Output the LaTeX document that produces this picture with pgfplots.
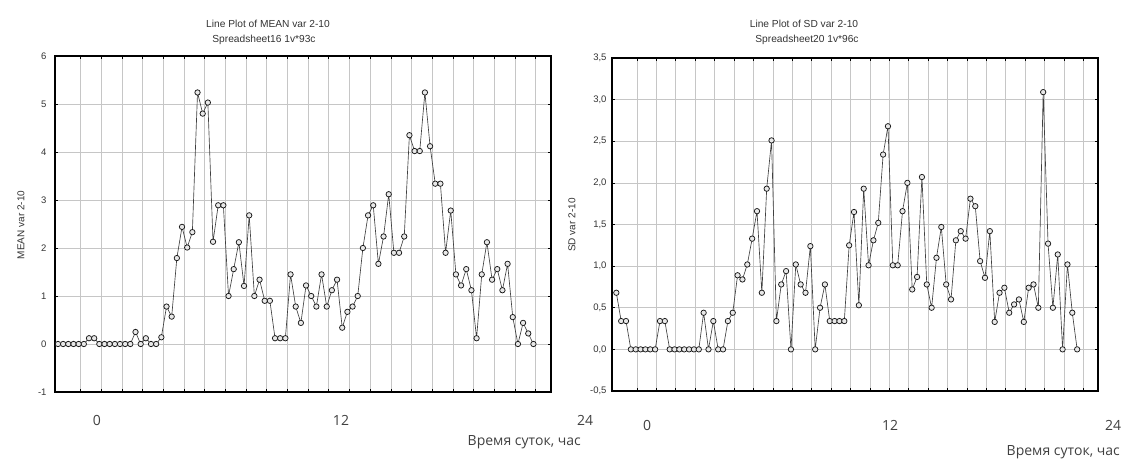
\documentclass[border=0pt]{standalone}
\usepackage{pgfplots}
\pgfplotsset{compat=1.18}
\usepackage{pgfplotstable}
\usepackage{fontspec}
\setmainfont{Liberation Sans}
\newfontfamily\capfont{Open Sans}

% case number, value
\pgfplotstableread{
n y
1 0
2 0
3 0
4 0
5 0
6 0
7 0.12
8 0.12
9 0
10 0
11 0
12 0
13 0
14 0
15 0
16 0.25
17 0
18 0.12
19 0
20 0
21 0.14
22 0.78
23 0.57
24 1.79
25 2.44
26 2.01
27 2.33
28 5.24
29 4.80
30 5.03
31 2.13
32 2.89
33 2.89
34 1.00
35 1.56
36 2.12
37 1.21
38 2.68
39 1.00
40 1.34
41 0.90
42 0.90
43 0.12
44 0.12
45 0.12
46 1.45
47 0.78
48 0.44
49 1.22
50 1.00
51 0.78
52 1.45
53 0.78
54 1.12
55 1.34
56 0.34
57 0.67
58 0.78
59 1.00
60 2.00
61 2.68
62 2.89
63 1.67
64 2.24
65 3.12
66 1.90
67 1.90
68 2.24
69 4.35
70 4.02
71 4.02
72 5.24
73 4.12
74 3.34
75 3.34
76 1.90
77 2.78
78 1.45
79 1.22
80 1.56
81 1.12
82 0.12
83 1.45
84 2.12
85 1.34
86 1.56
87 1.12
88 1.67
89 0.56
90 0
91 0.44
92 0.22
93 0
}\meandata

\pgfplotstableread{
n y
1 0.68
2 0.34
3 0.34
4 0
5 0
6 0
7 0
8 0
9 0
10 0.34
11 0.34
12 0
13 0
14 0
15 0
16 0
17 0
18 0
19 0.44
20 0
21 0.34
22 0
23 0
24 0.34
25 0.44
26 0.89
27 0.84
28 1.02
29 1.33
30 1.66
31 0.68
32 1.93
33 2.51
34 0.34
35 0.78
36 0.94
37 0
38 1.02
39 0.78
40 0.68
41 1.24
42 0
43 0.50
44 0.78
45 0.34
46 0.34
47 0.34
48 0.34
49 1.25
50 1.65
51 0.53
52 1.93
53 1.01
54 1.31
55 1.52
56 2.34
57 2.68
58 1.01
59 1.01
60 1.66
61 2.00
62 0.72
63 0.87
64 2.07
65 0.78
66 0.50
67 1.10
68 1.47
69 0.78
70 0.60
71 1.31
72 1.42
73 1.33
74 1.81
75 1.72
76 1.06
77 0.86
78 1.42
79 0.33
80 0.68
81 0.74
82 0.44
83 0.54
84 0.60
85 0.33
86 0.74
87 0.78
88 0.50
89 3.09
90 1.27
91 0.50
92 1.14
93 0
94 1.02
95 0.44
96 0
}\sddata

\pgfplotsset{
  statplot/.style={
    scale only axis,
    grid=major,
    major grid style={gray!45, line width=0.6pt},
    axis line style={black, line width=1.4pt},
    tick style={black, line width=0.6pt},
    major tick length=3pt,
    tick align=inside,
    xtick pos=both, ytick pos=both,
    xticklabels={},
    tick label style={font=\fontsize{9.5}{11}\selectfont, text=black!80},
    /pgf/number format/assume math mode=true,
  },
  statline/.style={
    black!75, line width=0.65pt,
    mark=*, mark size=2.7pt,
    mark options={draw=black!90, fill=gray!18, line width=0.75pt},
  },
}

\begin{document}
\begin{tikzpicture}
\useasboundingbox (0pt,0pt) rectangle (1127pt,462pt);

% left panel
\begin{axis}[statplot,
    at={(55pt,70pt)}, anchor=south west,
    width=496pt, height=336pt,
    xmin=0.42, xmax=96.4,
    ymin=-1, ymax=6,
    xtick={5.4,9.4,...,93.4},
    ytick={-1,0,...,6},
    yticklabel style={xshift=-5pt},
]
\addplot[statline] table[x=n, y=y] {\meandata};
\end{axis}

% right panel
\begin{axis}[statplot,
    at={(612pt,71pt)}, anchor=south west,
    width=486pt, height=333pt,
    xmin=0.11, xmax=100.3,
    ymin=-0.5, ymax=3.5,
    xtick={5.26,9.26,...,97.26},
    ytick={-0.5,0,...,3.5},
    yticklabel style={xshift=-2pt, /pgf/number format/.cd, fixed, fixed zerofill, precision=1, use comma},
]
\addplot[statline] table[x=n, y=y] {\sddata};
\end{axis}

% titles and axis names
\begin{scope}[every node/.style={text=black!80, inner sep=0pt}]
\node[font=\fontsize{10.2}{12}\selectfont] at (268pt,438pt) {Line Plot of MEAN var 2-10};
\node[font=\fontsize{10.2}{12}\selectfont] at (264pt,422pt) {Spreadsheet16 1v*93c};
\node[font=\fontsize{10.2}{12}\selectfont] at (804pt,438pt) {Line Plot of SD var 2-10};
\node[font=\fontsize{10.2}{12}\selectfont] at (807pt,422pt) {Spreadsheet20 1v*96c};
\node[font=\fontsize{10}{12}\selectfont, rotate=90] at (21pt,237pt) {MEAN var 2-10};
\node[font=\fontsize{10}{12}\selectfont, rotate=90] at (572pt,237pt) {SD var 2-10};
\end{scope}

% hour labels under the panels
\begin{scope}[every node/.style={text=black!75, inner sep=0pt, font=\capfont\fontsize{14}{16}\selectfont}]
\node at (97pt,42pt) {0};
\node at (341pt,42pt) {12};
\node at (585pt,42pt) {24};
\node[anchor=east] at (581pt,20pt) {Время суток, час};
\node at (647pt,37pt) {0};
\node at (890pt,37pt) {12};
\node at (1113pt,37pt) {24};
\node[anchor=east] at (1120pt,10pt) {Время суток, час};
\end{scope}
\end{tikzpicture}
\end{document}
